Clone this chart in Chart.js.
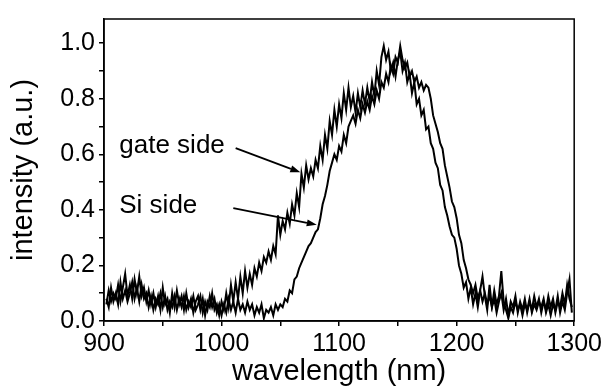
<!DOCTYPE html>
<html>
<head>
<meta charset="utf-8">
<script src="https://cdn.jsdelivr.net/npm/chart.js@4.4.1/dist/chart.umd.min.js"></script>
<style>
  html, body { margin: 0; padding: 0; background: #fff; }
  #wrap { width: 605px; height: 390px; }
</style>
</head>
<body>
<div id="wrap"><canvas id="chart" width="605" height="390"></canvas></div>
<script>
// Spectra sampled every 2 nm, starting at 902 nm
const startNm = 902;
const stepNm = 2;

const gateSide = [
  0.06, 0.11, 0.07, 0.10, 0.08, 0.13, 0.07, 0.12, 0.17, 0.09,
  0.13, 0.08, 0.15, 0.10, 0.16, 0.09, 0.12, 0.07, 0.11, 0.06,
  0.10, 0.05, 0.09, 0.04, 0.12, 0.06, 0.08, 0.03, 0.10, 0.05,
  0.11, 0.06, 0.09, 0.04, 0.10, 0.05, 0.08, 0.03, 0.07, 0.09,
  0.04, 0.08, 0.02, 0.07, 0.05, 0.10, 0.04, 0.06, 0.02, 0.07,
  0.04, 0.10, 0.05, 0.13, 0.07, 0.14, 0.08, 0.16, 0.10, 0.18,
  0.12, 0.17, 0.13, 0.19, 0.16, 0.21, 0.18, 0.23, 0.21, 0.25,
  0.22, 0.27, 0.24, 0.38, 0.31, 0.36, 0.33, 0.39, 0.35, 0.42,
  0.38, 0.46, 0.41, 0.53, 0.48, 0.56, 0.51, 0.55, 0.52, 0.58,
  0.55, 0.63, 0.58, 0.67, 0.62, 0.72, 0.67, 0.76, 0.70, 0.78,
  0.73, 0.82, 0.76, 0.84, 0.77, 0.81, 0.75, 0.82, 0.77, 0.83,
  0.78, 0.84, 0.79, 0.86, 0.81, 0.90, 0.85, 0.95, 0.99, 0.94,
  0.97, 0.90, 0.93, 0.88, 0.94, 0.97, 0.90, 0.93, 0.86, 0.89,
  0.82, 0.86, 0.78, 0.80, 0.74, 0.76, 0.69, 0.70, 0.64, 0.62,
  0.57, 0.55, 0.49, 0.47, 0.41, 0.38, 0.34, 0.31, 0.30, 0.26,
  0.20, 0.17, 0.12, 0.14, 0.08, 0.12, 0.06, 0.10, 0.05, 0.11,
  0.16, 0.09, 0.04, 0.13, 0.05, 0.08, 0.03, 0.07, 0.10, 0.04,
  0.08, 0.02, 0.07, 0.05, 0.09, 0.03, 0.07, 0.04, 0.08, 0.03,
  0.07, 0.04, 0.09, 0.05, 0.08, 0.03, 0.07, 0.04, 0.09, 0.05,
  0.08, 0.03, 0.07, 0.05, 0.10, 0.06, 0.13, 0.08, 0.05
];

const siSide = [
  0.08, 0.05, 0.12, 0.07, 0.10, 0.06, 0.14, 0.08, 0.11, 0.07,
  0.10, 0.14, 0.08, 0.12, 0.07, 0.13, 0.08, 0.10, 0.05, 0.09,
  0.04, 0.08, 0.06, 0.10, 0.05, 0.09, 0.04, 0.07, 0.05, 0.09,
  0.04, 0.08, 0.05, 0.09, 0.04, 0.07, 0.05, 0.09, 0.04, 0.06,
  0.09, 0.03, 0.07, 0.04, 0.09, 0.05, 0.08, 0.03, 0.06, 0.02,
  0.06, 0.03, 0.08, 0.04, 0.07, 0.03, 0.08, 0.04, 0.06, 0.03,
  0.07, 0.04, 0.06, 0.02, 0.05, 0.03, 0.06, 0.01, 0.04, 0.03,
  0.05, 0.02, 0.06, 0.04, 0.06, 0.05, 0.08, 0.07, 0.11, 0.10,
  0.15, 0.16, 0.19, 0.21, 0.23, 0.25, 0.27, 0.28, 0.30, 0.32,
  0.33, 0.37, 0.42, 0.45, 0.49, 0.54, 0.57, 0.60, 0.58, 0.63,
  0.61, 0.67, 0.64, 0.70, 0.72, 0.74, 0.71, 0.76, 0.73, 0.78,
  0.75, 0.79, 0.76, 0.81, 0.78, 0.83, 0.80, 0.86, 0.84, 0.89,
  0.86, 0.92, 0.89, 0.95, 0.93, 0.99, 0.94, 0.91, 0.93, 0.88,
  0.90, 0.86, 0.88, 0.84, 0.86, 0.83, 0.85, 0.84, 0.80, 0.74,
  0.71, 0.68, 0.64, 0.62, 0.56, 0.52, 0.48, 0.43, 0.41, 0.37,
  0.31, 0.28, 0.22, 0.19, 0.15, 0.13, 0.10, 0.13, 0.08, 0.11,
  0.07, 0.10, 0.06, 0.09, 0.05, 0.11, 0.06, 0.09, 0.18, 0.07,
  0.04, 0.01, 0.05, 0.03, 0.07, 0.04, 0.06, 0.02, 0.06, 0.04,
  0.08, 0.03, 0.06, 0.04, 0.07, 0.05, 0.08, 0.03, 0.06, 0.02,
  0.06, 0.04, 0.09, 0.03, 0.07, 0.04, 0.10, 0.15, 0.03
];

// Tick labels shown on the axes
const xLabelTicks = [900, 1000, 1100, 1200, 1300];
const yLabelTicks = [0.0, 0.2, 0.4, 0.6, 0.8, 1.0];

// Labels with arrows, in data coordinates
const callouts = [
  { text: 'gate side', at: [913, 0.605], from: [1012, 0.622], to: [1067, 0.535] },
  { text: 'Si side',   at: [913, 0.388], from: [1010, 0.406], to: [1081, 0.346] }
];

const FONT = "'Liberation Sans', Arial, sans-serif";

function toPoints(values) {
  return values.map((v, i) => ({ x: startNm + i * stepNm, y: v }));
}

// Box round the plot plus the arrow callouts
const framePlugin = {
  id: 'frame',
  afterDatasetsDraw(chart) {
    const { ctx, chartArea: a, scales } = chart;
    ctx.save();
    ctx.strokeStyle = '#000';
    ctx.lineWidth = 1.5;
    ctx.strokeRect(a.left, a.top, a.right - a.left, a.bottom - a.top);

    ctx.fillStyle = '#000';
    ctx.font = '26px ' + FONT;
    ctx.textBaseline = 'alphabetic';
    callouts.forEach(c => {
      ctx.fillText(c.text, scales.x.getPixelForValue(c.at[0]), scales.y.getPixelForValue(c.at[1]));

      const x1 = scales.x.getPixelForValue(c.from[0]);
      const y1 = scales.y.getPixelForValue(c.from[1]);
      const x2 = scales.x.getPixelForValue(c.to[0]);
      const y2 = scales.y.getPixelForValue(c.to[1]);
      const ang = Math.atan2(y2 - y1, x2 - x1);
      const len = 10, half = 3.5;
      ctx.lineWidth = 1.8;
      ctx.beginPath();
      ctx.moveTo(x1, y1);
      ctx.lineTo(x2 - len * Math.cos(ang), y2 - len * Math.sin(ang));
      ctx.stroke();
      ctx.beginPath();
      ctx.moveTo(x2, y2);
      ctx.lineTo(x2 - len * Math.cos(ang) + half * Math.sin(ang), y2 - len * Math.sin(ang) - half * Math.cos(ang));
      ctx.lineTo(x2 - len * Math.cos(ang) - half * Math.sin(ang), y2 - len * Math.sin(ang) + half * Math.cos(ang));
      ctx.closePath();
      ctx.fill();
    });
    ctx.restore();
  }
};

const ctx = document.getElementById('chart').getContext('2d');
new Chart(ctx, {
  type: 'line',
  data: {
    datasets: [
      { label: 'gate side', data: toPoints(gateSide), borderColor: '#000', borderWidth: 2, pointRadius: 0, tension: 0 },
      { label: 'Si side', data: toPoints(siSide), borderColor: '#000', borderWidth: 2, pointRadius: 0, tension: 0 }
    ]
  },
  options: {
    responsive: false,
    animation: false,
    layout: { padding: { top: 10, right: 30, left: 0, bottom: 0 } },
    plugins: { legend: { display: false }, tooltip: { enabled: false } },
    scales: {
      x: {
        type: 'linear',
        min: 900,
        max: 1300,
        afterFit: s => { s.height = 69; },
        border: { display: true, color: '#000', width: 1.5 },
        grid: { drawOnChartArea: false, drawTicks: true, tickLength: 5, color: '#000', lineWidth: 1.5 },
        ticks: {
          stepSize: 50,
          padding: 3,
          color: '#000',
          font: { family: FONT, size: 25 },
          maxRotation: 0,
          autoSkip: false,
          callback: v => xLabelTicks.includes(v) ? String(v) : ''
        },
        title: {
          display: true,
          text: 'wavelength (nm)',
          color: '#000',
          font: { family: FONT, size: 29 },
          padding: { top: 0, bottom: 1 }
        }
      },
      y: {
        min: 0,
        max: 1.087,
        afterFit: s => { s.width = 104; },
        border: { display: true, color: '#000', width: 1.5 },
        grid: { drawOnChartArea: false, drawTicks: true, tickLength: 5, color: '#000', lineWidth: 1.5 },
        ticks: {
          stepSize: 0.1,
          includeBounds: false,
          padding: 4,
          color: '#000',
          font: { family: FONT, size: 25 },
          autoSkip: false,
          callback: v => yLabelTicks.some(t => Math.abs(t - v) < 1e-6) ? v.toFixed(1) : ''
        },
        title: {
          display: true,
          text: 'intensity (a.u.)',
          color: '#000',
          font: { family: FONT, size: 29 },
          padding: { top: 7, bottom: 0 }
        }
      }
    }
  },
  plugins: [framePlugin]
});
</script>
</body>
</html>
